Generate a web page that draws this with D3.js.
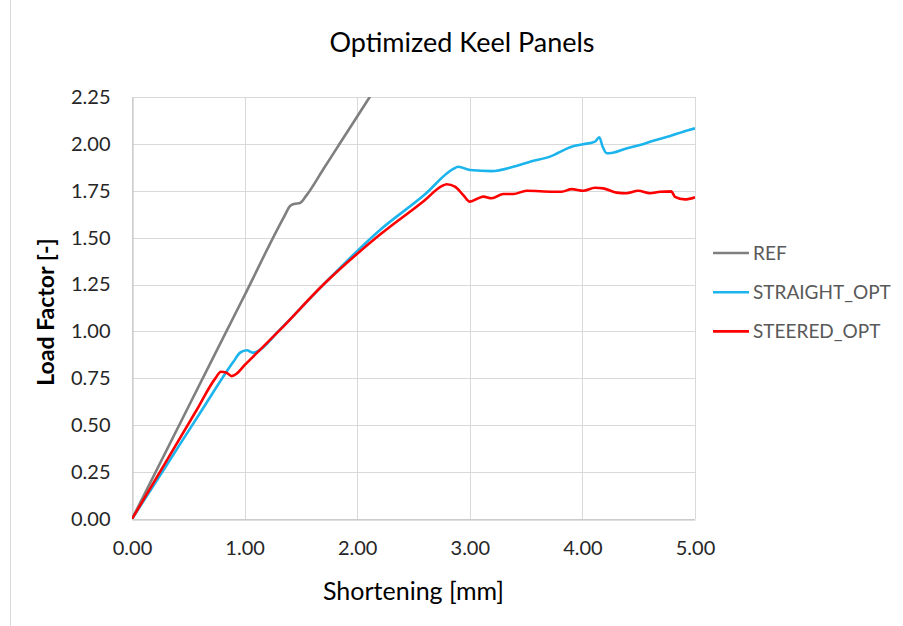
<!DOCTYPE html>
<html>
<head>
<meta charset="utf-8">
<script src="https://cdn.jsdelivr.net/npm/d3@7"></script>
<style>
  body { margin: 0; background: #fff; }
  svg text { font-family: Lato, "Open Sans", sans-serif; }
</style>
</head>
<body>
<div id="chart"></div>
<script>
// --- data ---
const seriesNames = ["REF", "STRAIGHT_OPT", "STEERED_OPT"];
const seriesColors = ["#7f7f7f", "#1cb4ec", "#ff0000"];

const refX = [0, 0.50, 1.00, 1.35, 1.403, 1.44, 1.492, 1.551, 1.70, 1.847, 2.114];
const refY = [0, 0.597, 1.193, 1.611, 1.668, 1.680, 1.685, 1.727, 1.866, 2.003, 2.252];

const straightX = [0, 0.30, 0.62, 0.90, 0.96, 1.02, 1.07, 1.10, 1.314, 1.70, 2.20, 2.60, 2.85, 2.898, 3.002, 3.194, 3.386, 3.535, 3.712, 3.905, 4.008, 4.112, 4.15, 4.18, 4.216, 4.27, 4.39, 4.51, 4.63, 4.78, 4.896, 5.0];
const straightY = [0, 0.28, 0.58, 0.838, 0.887, 0.90, 0.887, 0.89, 1.01, 1.25, 1.54, 1.73, 1.865, 1.878, 1.861, 1.855, 1.878, 1.905, 1.932, 1.985, 1.998, 2.012, 2.035, 1.985, 1.95, 1.953, 1.976, 1.994, 2.017, 2.042, 2.065, 2.083];

const steeredX = [0, 0.30, 0.574, 0.74, 0.79, 0.84, 0.885, 0.93, 1.0, 1.1, 1.314, 1.70, 2.20, 2.60, 2.75, 2.795, 2.868, 2.942, 3.0, 3.06, 3.12, 3.194, 3.298, 3.386, 3.505, 3.742, 3.816, 3.905, 4.008, 4.112, 4.186, 4.305, 4.39, 4.496, 4.60, 4.69, 4.79, 4.822, 4.91, 5.0];
const steeredY = [0, 0.303, 0.581, 0.75, 0.785, 0.78, 0.762, 0.775, 0.82, 0.88, 1.008, 1.25, 1.515, 1.70, 1.775, 1.785, 1.772, 1.727, 1.692, 1.706, 1.719, 1.71, 1.733, 1.733, 1.75, 1.745, 1.745, 1.759, 1.75, 1.766, 1.763, 1.74, 1.737, 1.75, 1.737, 1.745, 1.747, 1.718, 1.704, 1.715];

const xTicks = [0, 1, 2, 3, 4, 5];
const yTicks = [0, 0.25, 0.5, 0.75, 1, 1.25, 1.5, 1.75, 2, 2.25];

const titleText = "Optimized Keel Panels";
const xTitle = "Shortening [mm]";
const yTitle = "Load Factor [-]";

// --- layout ---
const width = 903, height = 626;
const m = { top: 97, right: 208, bottom: 107, left: 132 };

const svg = d3.select("#chart").append("svg")
  .attr("width", width)
  .attr("height", height);

svg.append("rect").attr("width", width).attr("height", height).attr("fill", "#fff");

// faint chart border on the left
svg.append("line")
  .attr("x1", 10.5).attr("x2", 10.5)
  .attr("y1", 0).attr("y2", height)
  .attr("stroke", "#d9d9d9");

const x = d3.scaleLinear().domain([0, 5]).range([m.left, width - m.right]);
const y = d3.scaleLinear().domain([0, 2.25]).range([height - m.bottom, m.top]);

// gridlines
svg.append("g")
  .selectAll("line")
  .data(yTicks)
  .join("line")
  .attr("x1", x(0)).attr("x2", x(5))
  .attr("y1", d => Math.round(y(d)) + 0.5).attr("y2", d => Math.round(y(d)) + 0.5)
  .attr("stroke", "#d9d9d9");

svg.append("g")
  .selectAll("line")
  .data(xTicks)
  .join("line")
  .attr("x1", d => Math.round(x(d)) + 0.5).attr("x2", d => Math.round(x(d)) + 0.5)
  .attr("y1", y(0)).attr("y2", y(2.25))
  .attr("stroke", "#d9d9d9");

// axes
const xAxis = svg.append("g")
  .attr("transform", `translate(0,${Math.round(y(0)) + 0.5})`)
  .call(d3.axisBottom(x).tickValues(xTicks).tickFormat(d3.format(".2f")).tickSize(0).tickPadding(21));
const yAxis = svg.append("g")
  .attr("transform", `translate(${Math.round(x(0)) + 0.5},0)`)
  .call(d3.axisLeft(y).tickValues(yTicks).tickFormat(d3.format(".2f")).tickSize(0).tickPadding(22));

[xAxis, yAxis].forEach(a => {
  a.select(".domain").attr("stroke", "#bfbfbf");
  a.selectAll("text")
    .attr("font-size", 20)
    .attr("fill", "#262626")
    .style("font-family", "Lato, sans-serif");
});

// clip
svg.append("clipPath").attr("id", "plot-clip")
  .append("rect")
  .attr("x", x(0)).attr("y", y(2.25))
  .attr("width", x(5) - x(0)).attr("height", y(0) - y(2.25));

const line = d3.line()
  .x(d => x(d[0]))
  .y(d => y(d[1]))
  .curve(d3.curveMonotoneX);

const series = [
  d3.zip(refX, refY),
  d3.zip(straightX, straightY),
  d3.zip(steeredX, steeredY)
];

svg.append("g")
  .attr("clip-path", "url(#plot-clip)")
  .selectAll("path")
  .data(series)
  .join("path")
  .attr("d", line)
  .attr("fill", "none")
  .attr("stroke", (d, i) => seriesColors[i])
  .attr("stroke-width", 2.6)
  .attr("stroke-linejoin", "round");

// title
svg.append("text")
  .attr("x", 462)
  .attr("y", 52)
  .attr("text-anchor", "middle")
  .attr("font-size", 27)
  .attr("fill", "#000")
  .text(titleText);

// axis titles
svg.append("text")
  .attr("x", (x(0) + x(5)) / 2)
  .attr("y", 600)
  .attr("text-anchor", "middle")
  .attr("font-size", 25)
  .attr("fill", "#000")
  .text(xTitle);

svg.append("text")
  .attr("transform", `translate(54,${(y(0) + y(2.25)) / 2 + 4}) rotate(-90)`)
  .attr("text-anchor", "middle")
  .attr("font-size", 23)
  .attr("font-weight", 700)
  .attr("fill", "#000")
  .text(yTitle);

// legend
const legend = svg.append("g").attr("transform", "translate(713,253)");
const row = legend.selectAll("g")
  .data(seriesNames)
  .join("g")
  .attr("transform", (d, i) => `translate(0,${i * 39.2})`);

row.append("line")
  .attr("x1", 0).attr("x2", 36)
  .attr("stroke", (d, i) => seriesColors[i])
  .attr("stroke-width", 2.6);

row.append("text")
  .attr("x", 40)
  .attr("dy", "0.36em")
  .attr("font-size", 19)
  .attr("fill", "#595959")
  .text(d => d);
</script>
</body>
</html>
